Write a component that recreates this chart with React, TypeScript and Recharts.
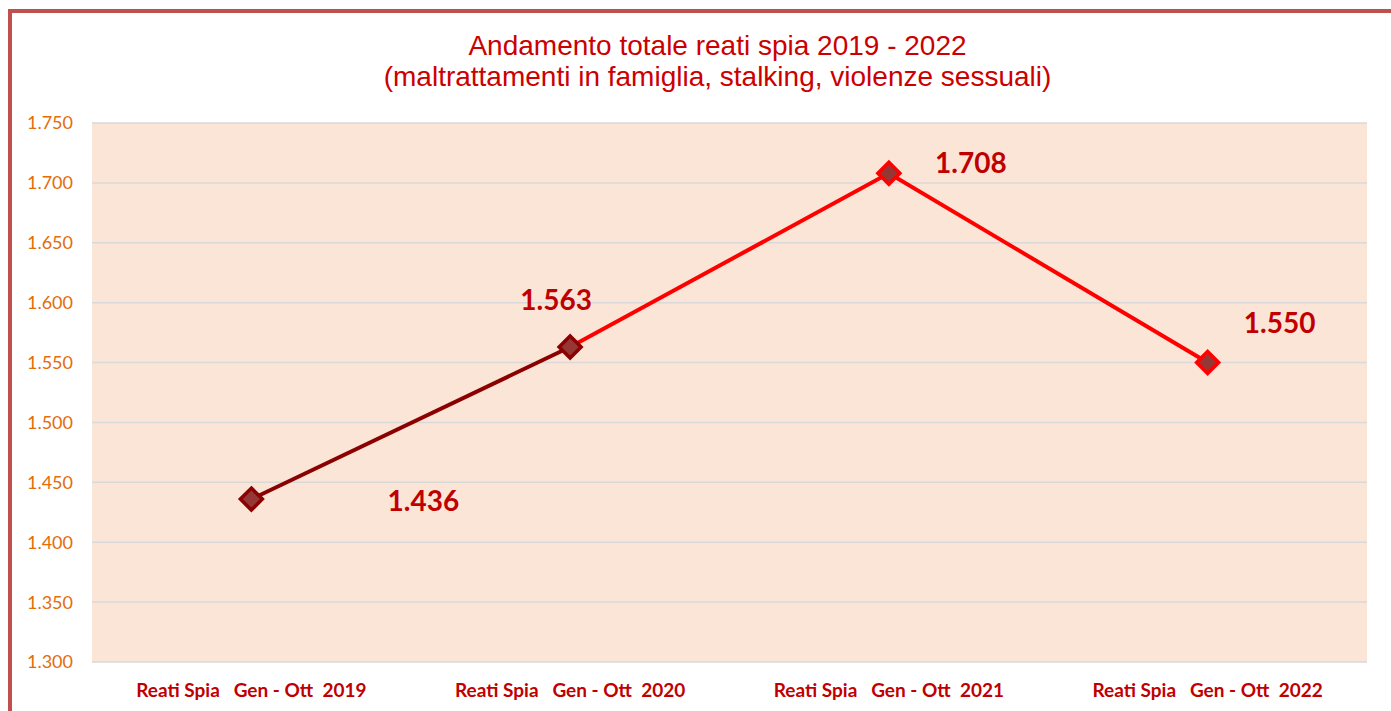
import React from 'react';
import { LineChart, Line, XAxis, YAxis, CartesianGrid } from 'recharts';

const categories = [
  'Reati Spia   Gen - Ott  2019',
  'Reati Spia   Gen - Ott  2020',
  'Reati Spia   Gen - Ott  2021',
  'Reati Spia   Gen - Ott  2022',
];
const values = [1436, 1563, 1708, 1550];
const yTicks = [1300, 1350, 1400, 1450, 1500, 1550, 1600, 1650, 1700, 1750];
const titleLines = [
  'Andamento totale reati spia 2019 - 2022',
  '(maltrattamenti in famiglia, stalking, violenze sessuali)',
];

// style/position settings (not data)
const LABEL_OFFSETS = [
  { dx: 172, dy: 1 },
  { dx: -14, dy: -48 },
  { dx: 82, dy: -11 },
  { dx: 72, dy: -41 },
];
const DARK = '#8B0000';
const BRIGHT = '#FF0000';
const LABEL_RED = '#C00000';

const fmt = (v: number) => {
  const th = Math.floor(v / 1000);
  const rest = String(v % 1000).padStart(3, '0');
  return th > 0 ? `${th}.${rest}` : String(v);
};

const data = categories.map((cat, i) => ({
  cat,
  v: values[i],
  segA: i <= 1 ? values[i] : null,
  segB: i >= 1 ? values[i] : null,
}));

const Diamond = (props: any) => {
  const { cx, cy, index } = props;
  if (cx == null || cy == null) return null;
  const r = 11;
  const stroke = index <= 1 ? DARK : BRIGHT;
  return (
    <path
      d={`M${cx},${cy - r} L${cx + r},${cy} L${cx},${cy + r} L${cx - r},${cy} Z`}
      fill="#953735"
      stroke={stroke}
      strokeWidth={3.5}
      strokeLinejoin="miter"
    />
  );
};

const ValueLabel = (props: any) => {
  const { x, y, index, value } = props;
  if (x == null || y == null) return null;
  const o = LABEL_OFFSETS[index] || { dx: 0, dy: 0 };
  return (
    <text
      x={x + o.dx}
      y={y + o.dy}
      textAnchor="middle"
      dominantBaseline="central"
      fill={LABEL_RED}
      fontFamily="Lato, 'Open Sans', sans-serif"
      fontWeight={700}
      fontSize={28}
    >
      {fmt(value)}
    </text>
  );
};

const XTick = (props: any) => {
  const { x, y, payload } = props;
  return (
    <text
      x={x}
      y={y + 27}
      textAnchor="middle"
      dominantBaseline="central"
      fill={LABEL_RED}
      fontFamily="Lato, 'Open Sans', sans-serif"
      fontWeight={700}
      fontSize={19}
      style={{ whiteSpace: 'pre' }}
      xmlSpace="preserve"
    >
      {payload.value}
    </text>
  );
};

export default function App() {
  return (
    <div
      style={{
        position: 'absolute',
        left: 0,
        top: 0,
        width: 1391,
        height: 711,
        overflow: 'hidden',
        background: '#fff',
      }}
    >
      <div
        style={{
          position: 'absolute',
          left: 8,
          top: 9,
          width: 1500,
          height: 800,
          border: '4px solid #C0504D',
          boxSizing: 'border-box',
        }}
      />
      <div
        style={{
          position: 'absolute',
          left: 0,
          top: 30,
          width: 1435,
          textAlign: 'center',
          color: '#CC0000',
          fontFamily: "'Liberation Sans', Arial, sans-serif",
          fontSize: 28,
          lineHeight: '31px',
        }}
      >
        {titleLines.map((t) => (
          <div key={t}>{t}</div>
        ))}
      </div>
      <div style={{ position: 'absolute', left: 0, top: 0 }}>
        <LineChart
          width={1391}
          height={711}
          data={data}
          margin={{ top: 123, right: 24, bottom: 0, left: 0 }}
        >
          <CartesianGrid
            vertical={false}
            fill="#FBE5D6"
            stroke="#D9D9D9"
            strokeWidth={1.5}
          />
          <XAxis
            dataKey="cat"
            scale="band"
            height={49}
            axisLine={false}
            tickLine={false}
            tickSize={0}
            tickMargin={0}
            interval={0}
            tick={<XTick />}
          />
          <YAxis
            width={92}
            domain={[1300, 1750]}
            ticks={yTicks}
            interval={0}
            axisLine={false}
            tickLine={false}
            tickSize={0}
            tickMargin={19}
            tickFormatter={fmt}
            tick={{
              fill: '#E46C0A',
              fontSize: 18,
              fontFamily: "Lato, 'Open Sans', sans-serif",
            }}
          />
          <Line
            dataKey="segA"
            stroke={DARK}
            strokeWidth={4}
            dot={false}
            activeDot={false}
            connectNulls={false}
            isAnimationActive={false}
          />
          <Line
            dataKey="segB"
            stroke={BRIGHT}
            strokeWidth={4}
            dot={false}
            activeDot={false}
            connectNulls={false}
            isAnimationActive={false}
          />
          <Line
            dataKey="v"
            stroke="none"
            strokeWidth={0}
            dot={<Diamond />}
            activeDot={false}
            label={<ValueLabel />}
            isAnimationActive={false}
          />
        </LineChart>
      </div>
    </div>
  );
}
